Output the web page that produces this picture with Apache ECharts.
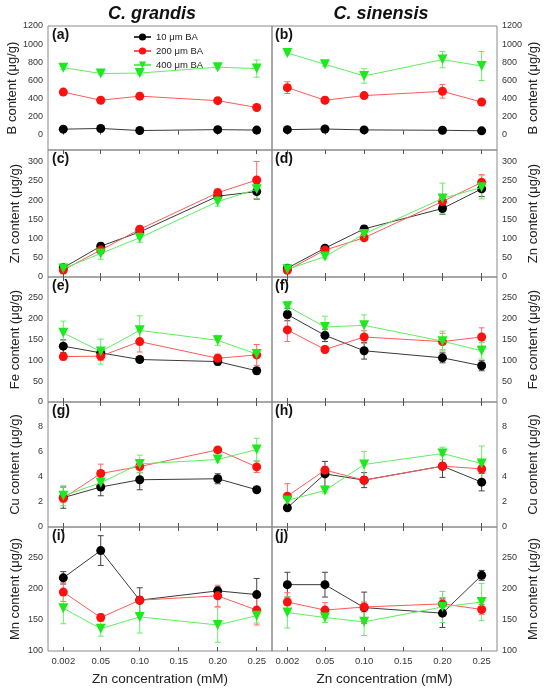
<!DOCTYPE html>
<html>
<head>
<meta charset="utf-8">
<script src="https://cdn.jsdelivr.net/npm/echarts@6/dist/echarts.min.js"></script>
<style>
html,body{margin:0;padding:0;background:#fff;}
#chart{width:550px;height:689px;}
</style>
</head>
<body>
<div id="chart"></div>
<script>
// Zn concentrations (mM)
const zn = [0.002, 0.05, 0.10, 0.20, 0.25];
const xTicks = [0.002, 0.05, 0.10, 0.15, 0.20, 0.25];
const seriesNames = ['10 μm BA', '200 μm BA', '400 μm BA'];
const speciesTitles = ['C. grandis', 'C. sinensis'];
const panelLetters = [['(a)','(b)'],['(c)','(d)'],['(e)','(f)'],['(g)','(h)'],['(i)','(j)']];
const yNames = ['B content (μg/g)', 'Zn content (μg/g)', 'Fe content (μg/g)', 'Cu content (μg/g)', 'Mn content (μg/g)'];
const yTicksB = [0, 200, 400, 600, 800, 1000, 1200];
const yTicksZn = [0, 50, 100, 150, 200, 250, 300];
const yTicksFe = [0, 50, 100, 150, 200, 250];
const yTicksCu = [0, 2, 4, 6, 8];
const yTicksMn = [100, 150, 200, 250];

// B content — C. grandis (rows: 10, 200, 400 μm BA)
const bGrandisMean = [[60, 68, 45, 55, 50], [470, 380, 425, 375, 300], [740, 675, 680, 745, 730]];
const bGrandisErr  = [[8, 10, 8, 8, 8], [30, 20, 35, 20, 20], [20, 15, 20, 20, 95]];
// B content — C. sinensis
const bSinensisMean = [[55, 62, 52, 48, 42], [519, 380, 431, 478, 360], [902, 777, 648, 829, 758]];
const bSinensisErr  = [[8, 8, 8, 8, 8], [65, 35, 20, 75, 15], [20, 20, 80, 90, 160]];
// Zn content
const znGrandisMean = [[24, 80, 117, 210, 222], [18, 70, 124, 219, 252], [22, 61, 102, 196, 228]];
const znGrandisErr  = [[4, 8, 10, 10, 20], [4, 8, 8, 10, 48], [5, 15, 12, 12, 25]];
const znSinensisMean = [[23, 75, 125, 178, 229], [17.5, 70, 102, 196, 246], [20, 53, 112, 204, 233]];
const znSinensisErr  = [[4, 6, 8, 15, 20], [4, 6, 6, 12, 20], [5, 6, 8, 40, 30]];
// Fe content
const feGrandisMean = [[134, 118, 102, 97, 75], [109, 110, 145, 105, 113], [166, 121, 172, 148, 115]];
const feGrandisErr  = [[15, 10, 6, 8, 8], [8, 10, 25, 10, 25], [28, 30, 35, 12, 10]];
const feSinensisMean = [[210, 160, 123, 106, 87], [173, 126, 156, 145, 156], [230, 180, 184, 146, 123]];
const feSinensisErr  = [[15, 15, 20, 12, 12], [28, 8, 15, 20, 22], [10, 26, 25, 24, 20]];
// Cu content
const cuGrandisMean = [[2.35, 3.2, 3.78, 3.86, 2.98], [2.3, 4.28, 4.84, 6.17, 4.81], [2.5, 3.54, 5.05, 5.4, 6.2]];
const cuGrandisErr  = [[0.85, 0.7, 0.8, 0.4, 0.1], [0.3, 0.75, 0.5, 0.15, 0.45], [0.8, 0.3, 0.7, 0.2, 0.9]];
const cuSinensisMean = [[1.54, 4.25, 3.75, 4.87, 3.59], [2.47, 4.55, 3.75, 4.87, 4.65], [2.13, 2.92, 5.0, 5.88, 5.08]];
const cuSinensisErr  = [[0.1, 1.0, 0.6, 0.9, 0.7], [1.0, 0.3, 0.3, 0.3, 0.3], [0.3, 0.2, 1.05, 0.5, 1.4]];
// Mn content
const mnGrandisMean = [[218, 262, 182, 197, 191], [195, 154, 182, 189, 166], [169, 136, 155, 142, 157]];
const mnGrandisErr  = [[10, 24, 20, 6, 26], [15, 6, 6, 17, 24], [25, 12, 26, 28, 12]];
const mnSinensisMean = [[207, 207, 170, 161, 222], [179, 166, 171, 176, 167], [162, 154, 147, 171, 179]];
const mnSinensisErr  = [[20, 20, 25, 23, 8], [15, 12, 8, 10, 8], [25, 8, 22, 25, 30]];

const panels = [
  {mean:[bGrandisMean, bSinensisMean], err:[bGrandisErr, bSinensisErr], ticks:yTicksB, min:-170, max:1200},
  {mean:[znGrandisMean, znSinensisMean], err:[znGrandisErr, znSinensisErr], ticks:yTicksZn, min:0, max:330},
  {mean:[feGrandisMean, feSinensisMean], err:[feGrandisErr, feSinensisErr], ticks:yTicksFe, min:0, max:300},
  {mean:[cuGrandisMean, cuSinensisMean], err:[cuGrandisErr, cuSinensisErr], ticks:yTicksCu, min:0, max:10},
  {mean:[mnGrandisMean, mnSinensisMean], err:[mnGrandisErr, mnSinensisErr], ticks:yTicksMn, min:100, max:300}
];

const FONT = 'Liberation Sans, Arial, Helvetica, sans-serif';
const colLeft = [48, 272], colWidth = [224, 225];
const rowTop = [26, 150, 277, 402, 527], rowH = [124, 127, 125, 125, 124];
const markerColors = ['#000000', '#ff0f0f', '#1ee81e'];
const lineColors = ['#3a3a3a', '#ff5a5a', '#5ef05e'];
const errColors = ['#444444', '#ff6a6a', '#66ee66'];
const symbols = ['circle', 'circle', 'triangle'];
const symbolRot = [0, 0, 180];
const symbolSizes = [9, 9, 10];
const xMin = -0.0176, xMax = 0.2696;

const grid = [], xAxis = [], yAxis = [], series = [], graphic = [];
let gi = 0;
for (let r = 0; r < 5; r++) {
  for (let c = 0; c < 2; c++) {
    const p = panels[r];
    grid.push({left: colLeft[c], top: rowTop[r], width: colWidth[c], height: rowH[r],
      show: true, borderColor: '#8a8a8a', borderWidth: 1, containLabel: false, outerBoundsMode: 'none'});
    const bottomRow = (r === 4);
    xAxis.push({
      type: 'value', gridIndex: gi, min: xMin, max: xMax, position: 'bottom',
      name: bottomRow ? 'Zn concentration (mM)' : '', nameLocation: 'middle', nameGap: 21,
      nameTextStyle: {fontFamily: FONT, fontSize: 13.5, color: '#222'},
      axisLine: {show: false}, splitLine: {show: false},
      axisTick: {show: true, inside: true, length: 4, customValues: xTicks, lineStyle: {color: '#555'}},
      axisLabel: {show: bottomRow, customValues: xTicks, fontFamily: FONT, fontSize: 9.5, color: '#333', margin: 5,
        formatter: v => (Math.abs(v - 0.002) < 1e-9 ? '0.002' : v.toFixed(2))}
    });
    xAxis.push({
      type: 'value', gridIndex: gi, min: xMin, max: xMax, position: 'top',
      axisLine: {show: false}, splitLine: {show: false},
      axisTick: {show: r !== 0, inside: true, length: 4, customValues: xTicks, lineStyle: {color: '#555'}},
      axisLabel: {show: false}
    });
    yAxis.push({
      type: 'value', gridIndex: gi, min: p.min, max: p.max, position: c === 0 ? 'left' : 'right',
      name: yNames[r], nameLocation: 'middle', nameRotate: 90, nameGap: c === 0 ? 26 : 30,
      nameTextStyle: {fontFamily: FONT, fontSize: 13, color: '#222'},
      axisLine: {show: false}, splitLine: {show: false},
      axisTick: {show: false},
      axisLabel: {customValues: p.ticks, fontFamily: FONT, fontSize: 9, color: '#333', margin: 5,
        formatter: v => String(v)}
    });
    for (let s = 0; s < 3; s++) {
      const m = p.mean[c][s], e = p.err[c][s];
      series.push({
        type: 'custom', name: 'err' + gi + '_' + s, xAxisIndex: gi * 2, yAxisIndex: gi, z: 2,
        data: zn.map((x, i) => [x, m[i] - e[i], m[i] + e[i]]),
        encode: {x: 0, y: [1, 2]},
        silent: true,
        renderItem: (function (col) {
          return function (params, api) {
            const x = api.value(0);
            const p1 = api.coord([x, api.value(2)]);
            const p2 = api.coord([x, api.value(1)]);
            const w = 3;
            const st = {stroke: col, lineWidth: 1};
            return {type: 'group', children: [
              {type: 'line', shape: {x1: p1[0], y1: p1[1], x2: p2[0], y2: p2[1]}, style: st},
              {type: 'line', shape: {x1: p1[0] - w, y1: p1[1], x2: p1[0] + w, y2: p1[1]}, style: st},
              {type: 'line', shape: {x1: p2[0] - w, y1: p2[1], x2: p2[0] + w, y2: p2[1]}, style: st}
            ]};
          };
        })(errColors[s])
      });
    }
    for (let s = 0; s < 3; s++) {
      const m = p.mean[c][s];
      series.push({
        type: 'line', name: seriesNames[s], xAxisIndex: gi * 2, yAxisIndex: gi, z: 3 + s,
        data: zn.map((x, i) => [x, m[i]]),
        symbol: symbols[s], symbolRotate: symbolRot[s], symbolSize: symbolSizes[s],
        showAllSymbol: true, animation: false,
        itemStyle: {color: markerColors[s], borderWidth: 0},
        lineStyle: {color: lineColors[s], width: 1}
      });
    }
    graphic.push({type: 'text', left: colLeft[c] + (c === 0 ? 4 : 3), top: rowTop[r] + 2, z: 10,
      style: {text: panelLetters[r][c], font: 'bold 14px ' + FONT, fill: '#111'}});
    gi++;
  }
}
graphic.push({type: 'text', x: 152, y: 14, z: 10,
  style: {text: speciesTitles[0], font: 'italic bold 18px ' + FONT, fill: '#111', textAlign: 'center', textVerticalAlign: 'middle'}});
graphic.push({type: 'text', x: 381, y: 14, z: 10,
  style: {text: speciesTitles[1], font: 'italic bold 18px ' + FONT, fill: '#111', textAlign: 'center', textVerticalAlign: 'middle'}});

const option = {
  backgroundColor: '#fff',
  animation: false,
  legend: {
    data: seriesNames, orient: 'vertical', left: 128, top: 27, itemGap: 4,
    itemWidth: 17, itemHeight: 9, selectedMode: false,
    textStyle: {fontFamily: FONT, fontSize: 9.5, color: '#222'}
  },
  grid, xAxis, yAxis, series, graphic
};
const chart = echarts.init(document.getElementById('chart'));
chart.setOption(option);
</script>
</body>
</html>
